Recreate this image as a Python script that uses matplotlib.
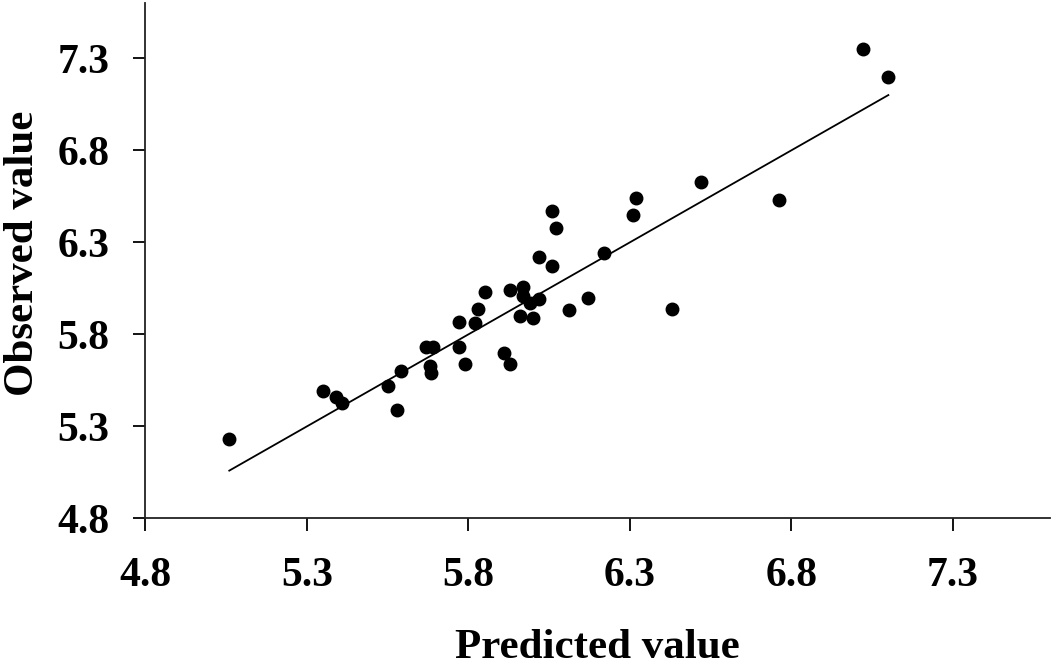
import matplotlib
matplotlib.use("Agg")
import matplotlib.pyplot as plt

# Predicted vs observed values
predicted = [5.06, 5.35, 5.39, 5.41, 5.55, 5.58, 5.59, 5.67, 5.69, 5.68,
             5.685, 5.77, 5.77, 5.79, 5.82, 5.83, 5.85, 5.91, 5.93, 5.93,
             5.97, 5.97, 5.99, 6.02, 5.96, 6.00, 6.11, 6.17, 6.02, 6.06,
             6.07, 6.06, 6.22, 6.31, 6.32, 6.43, 6.52, 6.76, 7.02, 7.10]
observed = [5.23, 5.49, 5.46, 5.43, 5.52, 5.39, 5.60, 5.73, 5.73, 5.63,
            5.59, 5.87, 5.73, 5.64, 5.86, 5.94, 6.03, 5.70, 5.64, 6.04,
            6.06, 6.01, 5.97, 5.99, 5.90, 5.89, 5.93, 6.00, 6.22, 6.17,
            6.38, 6.47, 6.24, 6.45, 6.54, 5.94, 6.63, 6.53, 7.35, 7.20]

# Fitted line end points
fit_x = [5.06, 7.10]
fit_y = [5.06, 7.10]

ticks = [4.8, 5.3, 5.8, 6.3, 6.8, 7.3]

plt.rcParams['font.family'] = ['Liberation Serif', 'DejaVu Serif']
plt.rcParams['font.weight'] = 'bold'

fig = plt.figure(figsize=(10.52, 6.71), dpi=100)
ax = fig.add_axes([0.1381, 0.2273, 0.8599, 0.7682])

ax.plot(fit_x, fit_y, color='black', lw=1.3)
ax.plot(predicted, observed, 'o', color='black', ms=9)

ax.set_xlim(4.8, 7.6)
ax.set_ylim(4.8, 7.6)
ax.set_xticks(ticks)
ax.set_yticks(ticks)
ax.set_xticklabels([f"{t:.1f}" for t in ticks])
ax.set_yticklabels([f"{t:.1f}" for t in ticks])

for side in ['top', 'right']:
    ax.spines[side].set_visible(False)
for side in ['left', 'bottom']:
    ax.spines[side].set_linewidth(1.3)
    ax.spines[side].set_color('#222222')

ax.tick_params(axis='both', direction='out', length=9, width=1.3,
               labelsize=30, colors='black')
ax.tick_params(axis='x', pad=19)
ax.tick_params(axis='y', pad=17)

ax.set_xlabel("Predicted value", fontsize=31, fontweight='bold')
ax.set_ylabel("Observed value", fontsize=31, fontweight='bold')
ax.xaxis.set_label_coords(0.5, -0.214)
ax.yaxis.set_label_coords(-0.114, 0.515)

fig.savefig("out.png", dpi=100)
